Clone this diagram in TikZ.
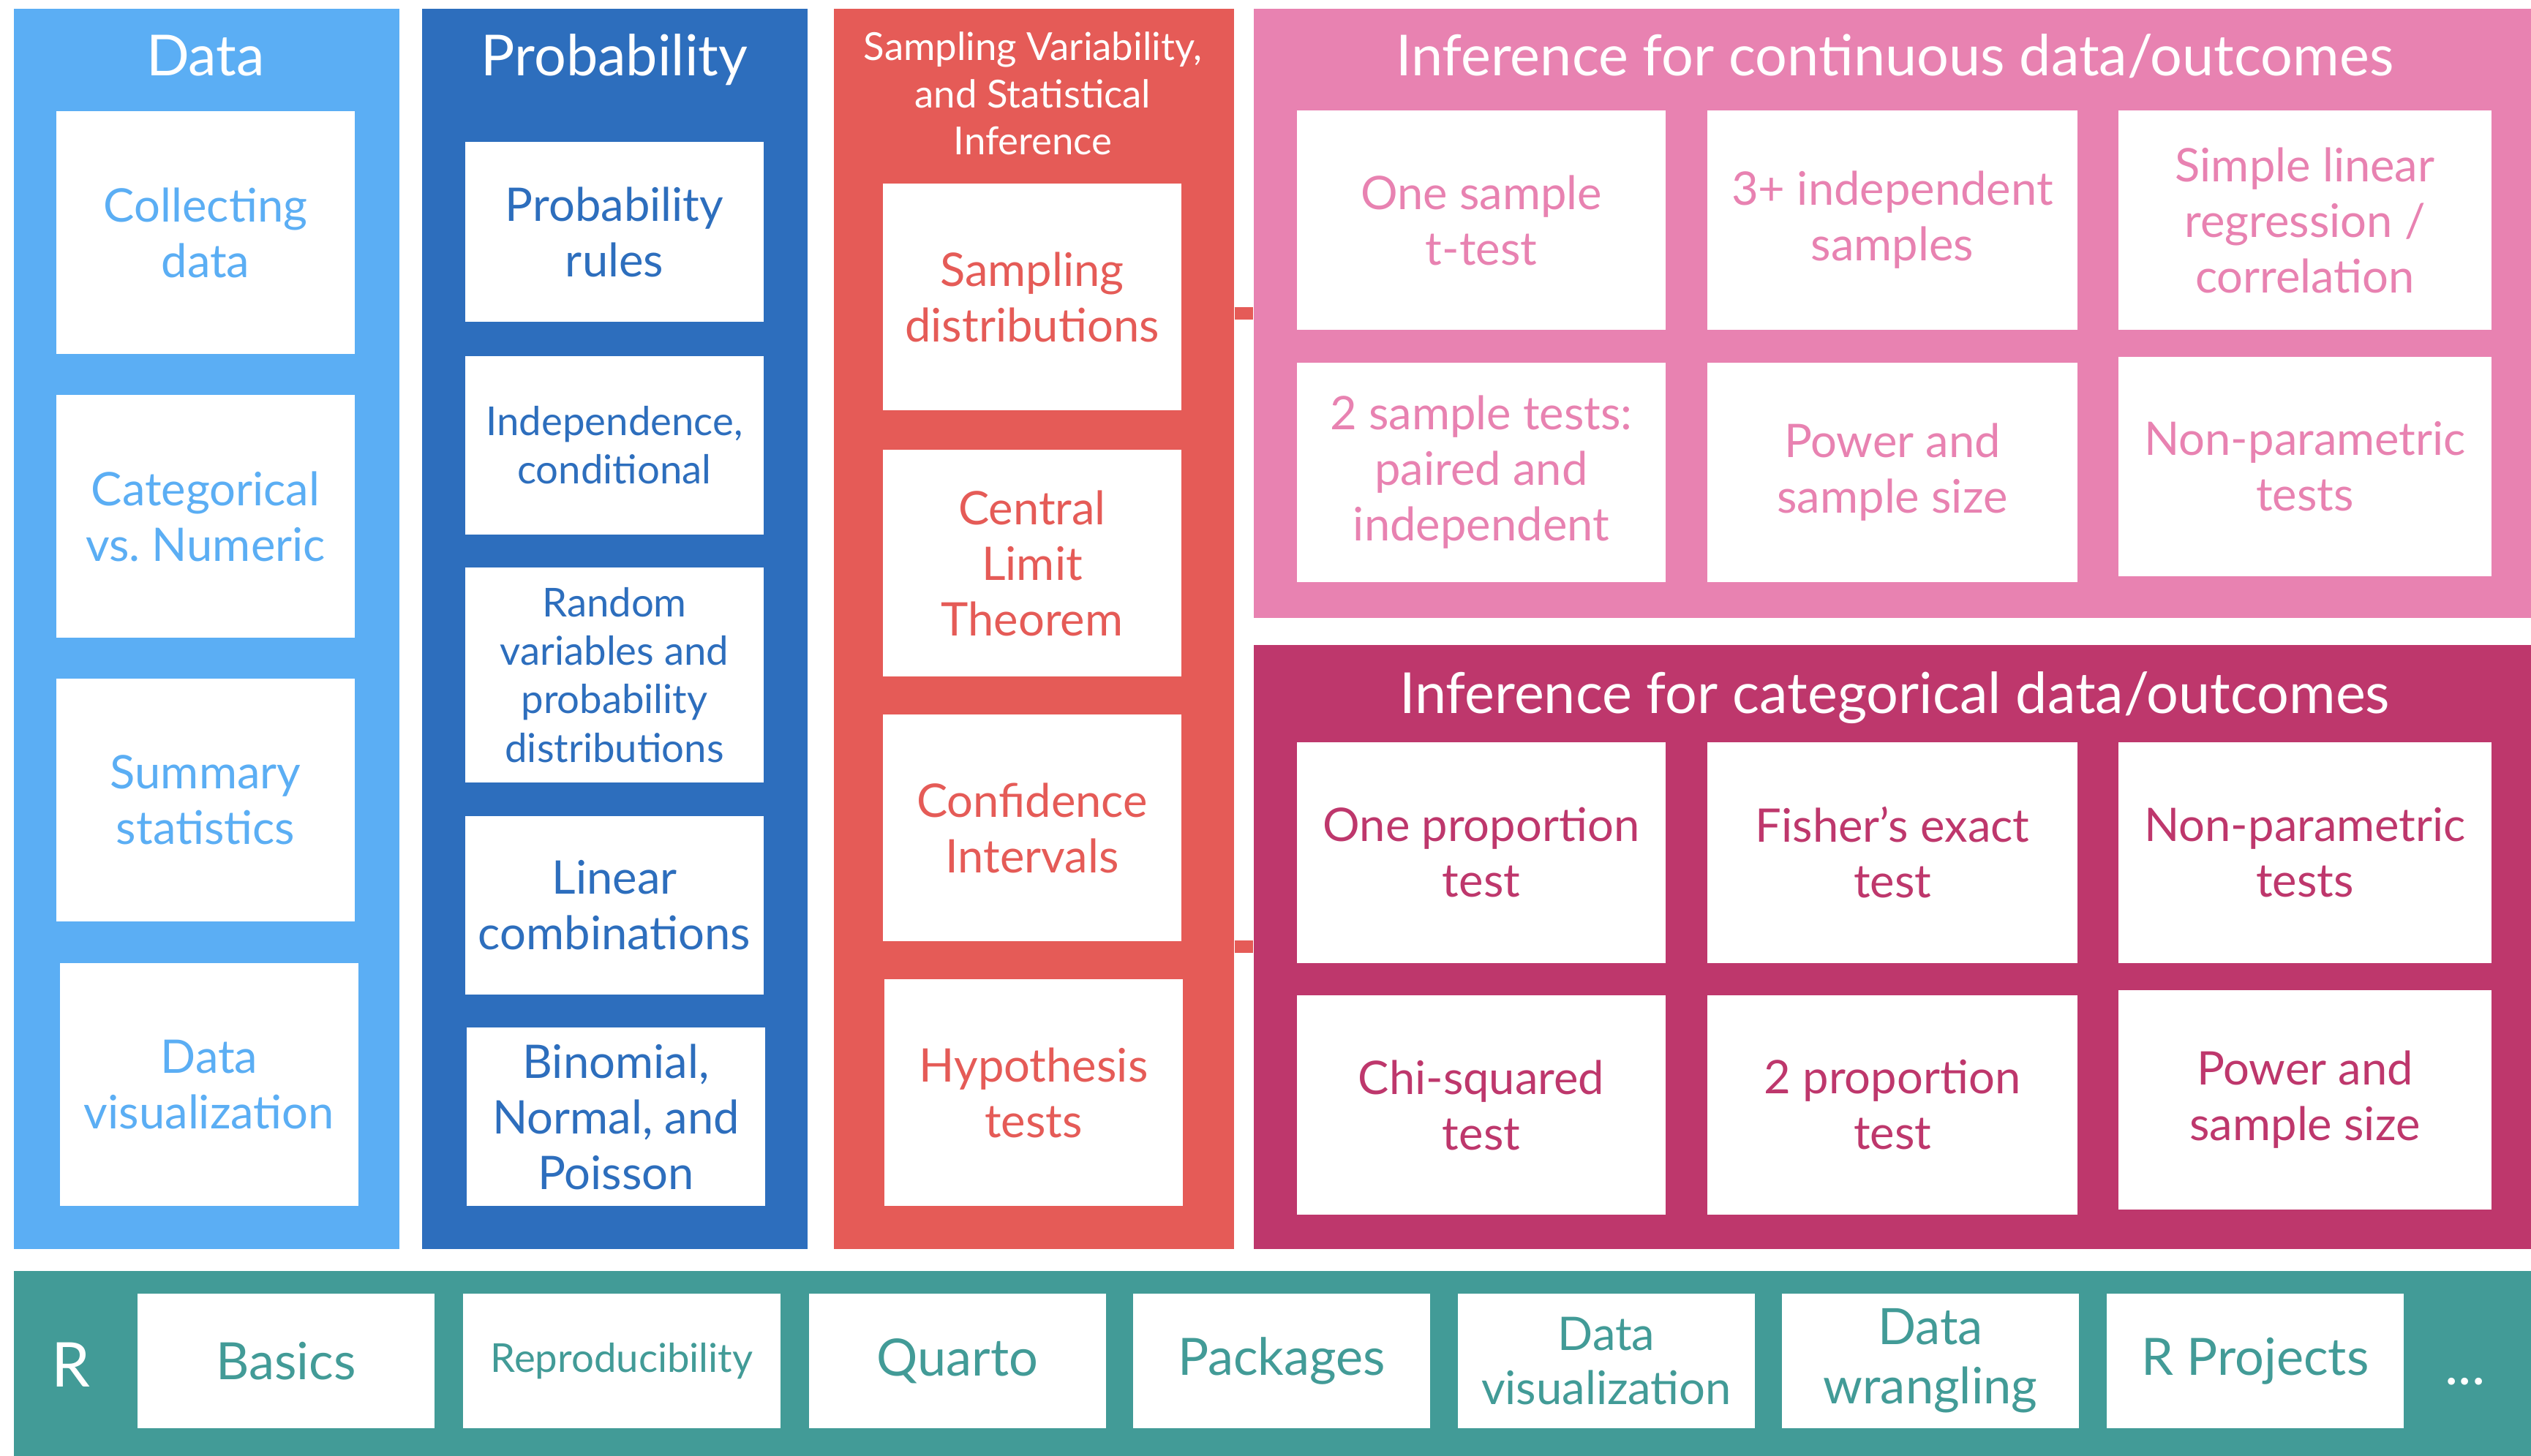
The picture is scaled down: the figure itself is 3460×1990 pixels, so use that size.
\documentclass[tikz,border=0pt]{standalone}
\usepackage{fontspec}
\setmainfont{Lato}
\definecolor{DataBlue}{HTML}{5BAEF4}
\definecolor{ProbBlue}{HTML}{2D6EBD}
\definecolor{SampRed}{HTML}{E55B57}
\definecolor{ContPink}{HTML}{E882B1}
\definecolor{CatRose}{HTML}{BE376C}
\definecolor{RTeal}{HTML}{429B97}
\begin{document}
\begin{tikzpicture}[x=0.01cm, y=-0.01cm]
\useasboundingbox (0,0) rectangle (3460,1990);
\tikzset{Panel/.style ={fill=#1, inner sep=0pt, anchor=north west}}
\tikzset{Head/.style ={text=white, align=center, font=\fontsize{22}{26}\selectfont}}
\tikzset{Box/.style ={fill=white, text=#1, align=center, inner sep=0pt, minimum width=4.08cm, font=\fontsize{18}{21.6}\selectfont}}
\tikzset{Small/.style ={font=\fontsize{15.5}{18.8}\selectfont}}
\tikzset{Link/.style ={draw=SampRed, line width=0.17cm}}
\node[Panel=DataBlue, minimum width=5.27cm, minimum height=16.95cm] (Data) at (18,11) {};
\node[Panel=ProbBlue, minimum width=5.27cm, minimum height=16.95cm] (Prob) at (576,11) {};
\node[Panel=SampRed, minimum width=5.47cm, minimum height=16.95cm] (Samp) at (1139,11) {};
\node[Panel=ContPink, minimum width=17.47cm, minimum height=8.33cm] (Cont) at (1713,11) {};
\node[Panel=CatRose, minimum width=17.47cm, minimum height=8.26cm] (Cat) at (1713,881) {};
\node[Panel=RTeal, minimum width=34.42cm, minimum height=2.53cm] (R) at (18,1737) {};
\node[Head, anchor=base] (DataHead) at (281,103) {Data};
\node[Head, anchor=base] (ProbHead) at (840,103) {Probability};
\node[Head, font=\fontsize{15}{18.4}\selectfont] (SampHead) at (1412,128) {Sampling Variability,\\and Statistical\\Inference};
\node[Head, anchor=base] (ContHead) at (2590,103) {Inference for continuous data/outcomes};
\node[Head, anchor=base] (CatHead) at (2590,975) {Inference for categorical data/outcomes};
\node[Box=DataBlue, minimum height=3.31cm] (Collect) at (281,318) {Collecting\\data};
\node[Box=DataBlue, minimum height=3.31cm] (Types) at (281,706) {Categorical\\vs.\ Numeric};
\node[Box=DataBlue, minimum height=3.31cm] (Summary) at (281,1094) {Summary\\statistics};
\node[Box=DataBlue, minimum height=3.31cm] (DataVis) at (286,1483) {Data\\visualization};
\node[Box=ProbBlue, minimum height=2.45cm] (Rules) at (840,317) {Probability\\rules};
\node[Box=ProbBlue, Small, minimum height=2.43cm] (Indep) at (840,609) {Independence,\\conditional};
\node[Box=ProbBlue, Small, minimum height=2.93cm] (RandVar) at (840,923) {Random\\variables and\\probability\\distributions};
\node[Box=ProbBlue, minimum height=2.43cm] (LinComb) at (840,1238) {Linear\\combinations};
\node[Box=ProbBlue, minimum height=2.43cm] (Dists) at (842,1527) {Binomial,\\Normal, and\\Poisson};
\node[Box=SampRed, minimum height=3.09cm] (SampDist) at (1411,406) {Sampling\\distributions};
\node[Box=SampRed, minimum height=3.09cm] (CLT) at (1411,770) {Central\\Limit\\Theorem};
\node[Box=SampRed, minimum height=3.09cm] (CI) at (1411,1132) {Confidence\\Intervals};
\node[Box=SampRed, minimum height=3.09cm] (HypTest) at (1413,1494) {Hypothesis\\tests};
\node[Box=ContPink, minimum width=5.03cm, minimum height=3.0cm] (OneT) at (2025,301) {One sample\\t-test};
\node[Box=ContPink, minimum width=5.05cm, minimum height=3.0cm] (Anova) at (2587,301) {3+ independent\\samples};
\node[Box=ContPink, minimum width=5.1cm, minimum height=3.0cm] (Regr) at (3151,301) {Simple linear\\regression /\\correlation};
\node[Box=ContPink, minimum width=5.03cm, minimum height=3.0cm] (TwoT) at (2025,646) {2 sample tests:\\paired and\\independent};
\node[Box=ContPink, minimum width=5.05cm, minimum height=3.0cm] (ContPower) at (2587,646) {Power and\\sample size};
\node[Box=ContPink, minimum width=5.1cm, minimum height=3.0cm] (ContNonPar) at (3151,638) {Non-parametric\\tests};
\node[Box=CatRose, minimum width=5.03cm, minimum height=3.01cm] (OneProp) at (2025,1166) {One proportion\\test};
\node[Box=CatRose, minimum width=5.05cm, minimum height=3.01cm] (Fisher) at (2587,1166) {Fisher’s exact\\test};
\node[Box=CatRose, minimum width=5.1cm, minimum height=3.01cm] (CatNonPar) at (3151,1166) {Non-parametric\\tests};
\node[Box=CatRose, minimum width=5.03cm, minimum height=3.0cm] (ChiSq) at (2025,1511) {Chi-squared\\test};
\node[Box=CatRose, minimum width=5.05cm, minimum height=3.0cm] (TwoProp) at (2587,1511) {2 proportion\\test};
\node[Box=CatRose, minimum width=5.1cm, minimum height=3.0cm] (CatPower) at (3151,1504) {Power and\\sample size};
\draw[Link] (Cont.west -| Samp.east) -- (Cont.west);
\draw[Link] (Cat.west -| Samp.east) -- (Cat.west);
\tikzset{Tool/.style ={Box=RTeal, minimum width=4.06cm, minimum height=1.83cm, font=\fontsize{20}{24}\selectfont}}
\node[Head, font=\fontsize{24}{28}\selectfont] (RHead) at (97,1866) {R};
\node[Tool] (Basics) at (391,1861) {Basics};
\node[Tool, minimum width=4.33cm, font=\fontsize{15.5}{18.6}\selectfont] (Repro) at (850,1861) {Reproducibility};
\node[Tool] (Quarto) at (1309,1861) {Quarto};
\node[Tool] (Pkgs) at (1752,1861) {Packages};
\node[Tool, font=\fontsize{18}{21.3}\selectfont] (RVis) at (2196,1861) {Data\\visualization};
\node[Tool, font=\fontsize{19.5}{23}\selectfont] (Wrangle) at (2639,1861) {Data\\wrangling};
\node[Tool] (Proj) at (3083,1861) {R Projects};
\node[Head] (More) at (3370,1889) {...};
\end{tikzpicture}
\end{document}
